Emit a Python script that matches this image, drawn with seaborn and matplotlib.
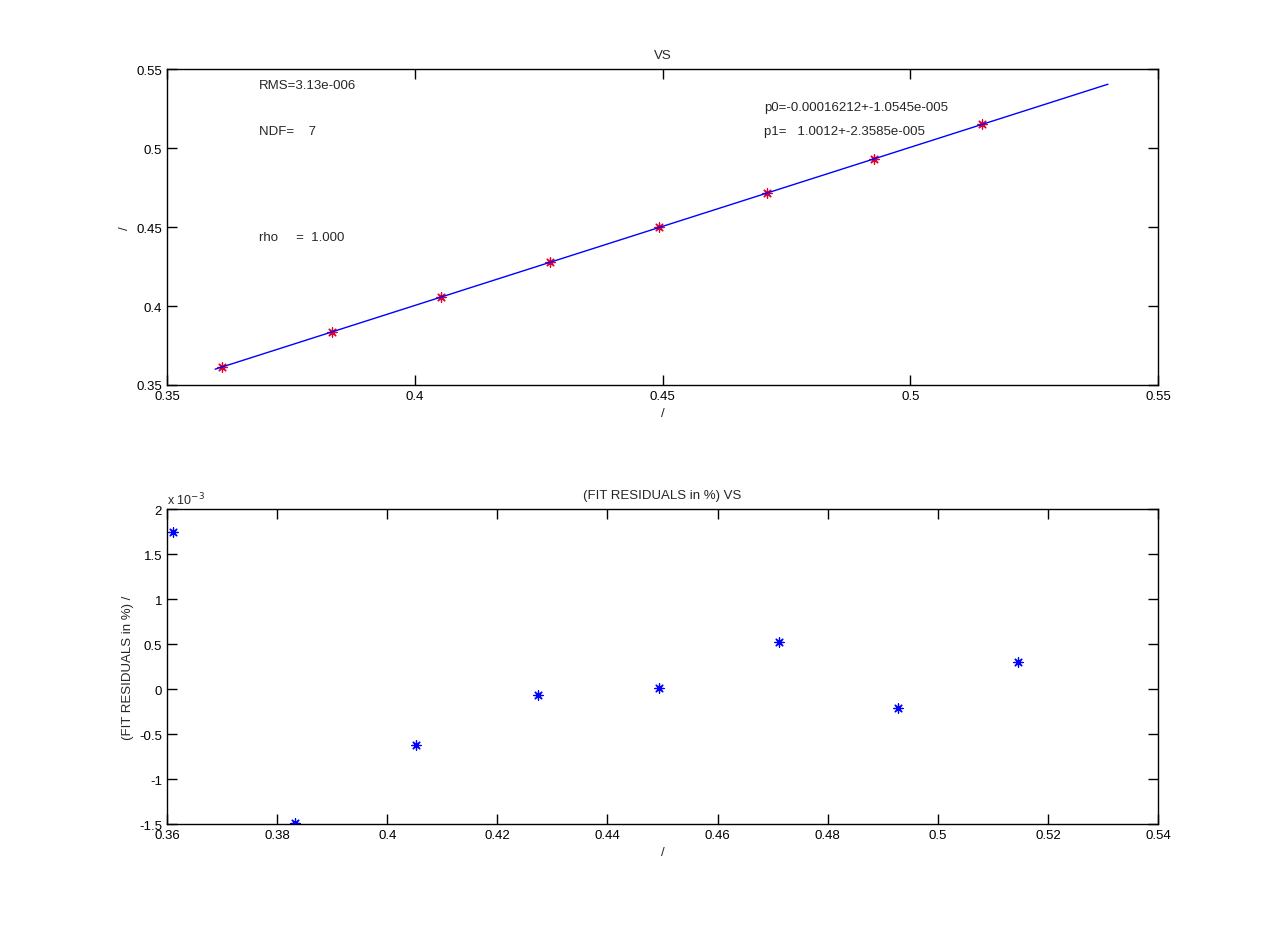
import matplotlib
matplotlib.use('Agg')
import matplotlib.pyplot as plt
import pandas as pd
import seaborn as sns

sns.set_style('ticks')
plt.rcParams['font.family'] = ['Liberation Sans', 'DejaVu Sans']

# measured points
x_vals = [0.3611, 0.3833, 0.4053, 0.4273, 0.4493, 0.4711, 0.4927, 0.5145]
y_vals = [0.3614, 0.3836, 0.4056, 0.4277, 0.4497, 0.4715, 0.4931, 0.5149]

# fitted line end points
fit_x = [0.3597, 0.5399]
fit_y = [0.3600, 0.5404]

# fit residuals (x 10^-3)
resid = [1.744, -1.49, -0.622, -0.067, 0.011, 0.522, -0.211, 0.300]

info_texts = ['RMS=3.13e-006', 'NDF=    7', 'rho     =  1.000']
fit_texts = ['p0=-0.00016212+-1.0545e-005', 'p1=   1.0012+-2.3585e-005']

asterisk = (8, 2, 0)
FS = 9.5


def style_axes(ax):
    ax.tick_params(direction='in', top=True, right=True, length=7,
                   width=1, labelsize=FS, colors='black')
    for s in ax.spines.values():
        s.set_visible(True)
        s.set_linewidth(1)
        s.set_color('black')


def main():
    df = pd.DataFrame({'x': x_vals, 'y': y_vals, 'r': [v * 1e-3 for v in resid]})
    fit = pd.DataFrame({'x': fit_x, 'y': fit_y})

    fig = plt.figure(figsize=(12.8, 9.29), dpi=100)
    ax1 = fig.add_axes([0.1305, 0.5845, 0.7742, 0.3401])
    ax2 = fig.add_axes([0.1305, 0.1119, 0.7742, 0.3390])

    # top panel: data and straight-line fit
    sns.scatterplot(data=df, x='x', y='y', ax=ax1, marker=asterisk, s=45,
                    color='#e00030', edgecolor='#e00030', linewidth=0.9, zorder=2)
    sns.lineplot(data=fit, x='x', y='y', ax=ax1, color='blue', linewidth=1,
                 zorder=3)
    ax1.set_xlim(0.35, 0.55)
    ax1.set_ylim(0.35, 0.55)
    ax1.set_xticks([0.35, 0.4, 0.45, 0.5, 0.55])
    ax1.set_yticks([0.35, 0.4, 0.45, 0.5, 0.55])
    ax1.set_xticklabels(['0.35', '0.4', '0.45', '0.5', '0.55'])
    ax1.set_yticklabels(['0.35', '0.4', '0.45', '0.5', '0.55'])
    ax1.set_title('VS', fontsize=FS, pad=8)
    ax1.set_xlabel('/', fontsize=FS)
    ax1.set_ylabel('/', fontsize=FS)
    style_axes(ax1)

    ax1.text(0.3686, 0.540, info_texts[0], fontsize=FS, va='center')
    ax1.text(0.3686, 0.511, info_texts[1], fontsize=FS, va='center')
    ax1.text(0.3686, 0.444, info_texts[2], fontsize=FS, va='center')
    ax1.text(0.4705, 0.526, fit_texts[0], fontsize=FS, va='center')
    ax1.text(0.4705, 0.511, fit_texts[1], fontsize=FS, va='center')

    # bottom panel: residuals
    sns.scatterplot(data=df, x='x', y='r', ax=ax2, marker=asterisk, s=45,
                    color='blue', edgecolor='blue', linewidth=0.9)
    ax2.set_xlim(0.36, 0.54)
    ax2.set_ylim(-1.5e-3, 2e-3)
    xt = [0.36, 0.38, 0.40, 0.42, 0.44, 0.46, 0.48, 0.50, 0.52, 0.54]
    ax2.set_xticks(xt)
    ax2.set_xticklabels(['0.36', '0.38', '0.4', '0.42', '0.44', '0.46',
                         '0.48', '0.5', '0.52', '0.54'])
    yt = [-1.5, -1, -0.5, 0, 0.5, 1, 1.5, 2]
    ax2.set_yticks([v * 1e-3 for v in yt])
    ax2.set_yticklabels(['-1.5', '-1', '-0.5', '0', '0.5', '1', '1.5', '2'])
    ax2.set_title('(FIT RESIDUALS in %) VS', fontsize=FS, pad=8)
    ax2.set_xlabel('/', fontsize=FS)
    ax2.set_ylabel('(FIT RESIDUALS in %) /', fontsize=FS)
    style_axes(ax2)
    ax2.text(0.0, 1.005, r'x 10$^{-3}$', transform=ax2.transAxes,
             fontsize=9, ha='left', va='bottom')

    plt.savefig('out.png', dpi=100)


if __name__ == '__main__':
    main()
